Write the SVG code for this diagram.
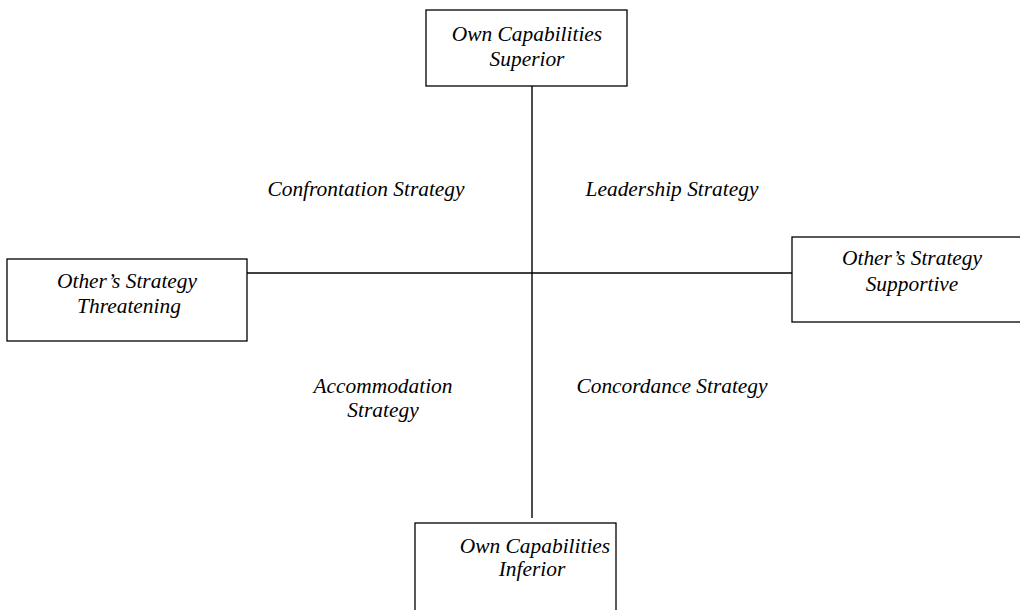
<svg xmlns="http://www.w3.org/2000/svg" width="1020" height="610" viewBox="0 0 1020 610">
  <style>
    .box { fill: #ffffff; stroke: #000000; stroke-width: 1.3; }
    .axis { stroke: #000000; stroke-width: 1.4; fill: none; }
    text { font-family: "Liberation Serif", "Times New Roman", serif; font-style: italic; font-size: 21.4px; fill: #000000; text-anchor: middle; }
  </style>
  <rect width="1020" height="610" fill="#ffffff"/>

  <!-- axes -->
  <g id="connectors">
    <line class="axis" x1="532" y1="86" x2="532" y2="518"/>
    <line class="axis" x1="247" y1="273" x2="792" y2="273"/>
  </g>

  <g id="node-superior">
    <rect class="box" x="426" y="10" width="201" height="76"/>
    <text x="527" y="41">Own Capabilities</text>
    <text x="527" y="66">Superior</text>
  </g>

  <g id="node-threatening">
    <rect class="box" x="7" y="259" width="240" height="82"/>
    <text x="127" y="288">Other’s Strategy</text>
    <text x="129" y="313">Threatening</text>
  </g>

  <g id="node-supportive">
    <rect class="box" x="792" y="237" width="240" height="85"/>
    <text x="912" y="265">Other’s Strategy</text>
    <text x="912" y="291">Supportive</text>
  </g>

  <g id="node-inferior">
    <rect class="box" x="415" y="523" width="201" height="100"/>
    <text x="535" y="553">Own Capabilities</text>
    <text x="532" y="576">Inferior</text>
  </g>

  <!-- quadrant labels -->
  <g id="quadrant-labels">
    <text x="366" y="196">Confrontation Strategy</text>
    <text x="672" y="196">Leadership Strategy</text>
    <text x="383" y="393">Accommodation</text>
    <text x="383" y="417">Strategy</text>
    <text x="672" y="393">Concordance Strategy</text>
  </g>
</svg>
